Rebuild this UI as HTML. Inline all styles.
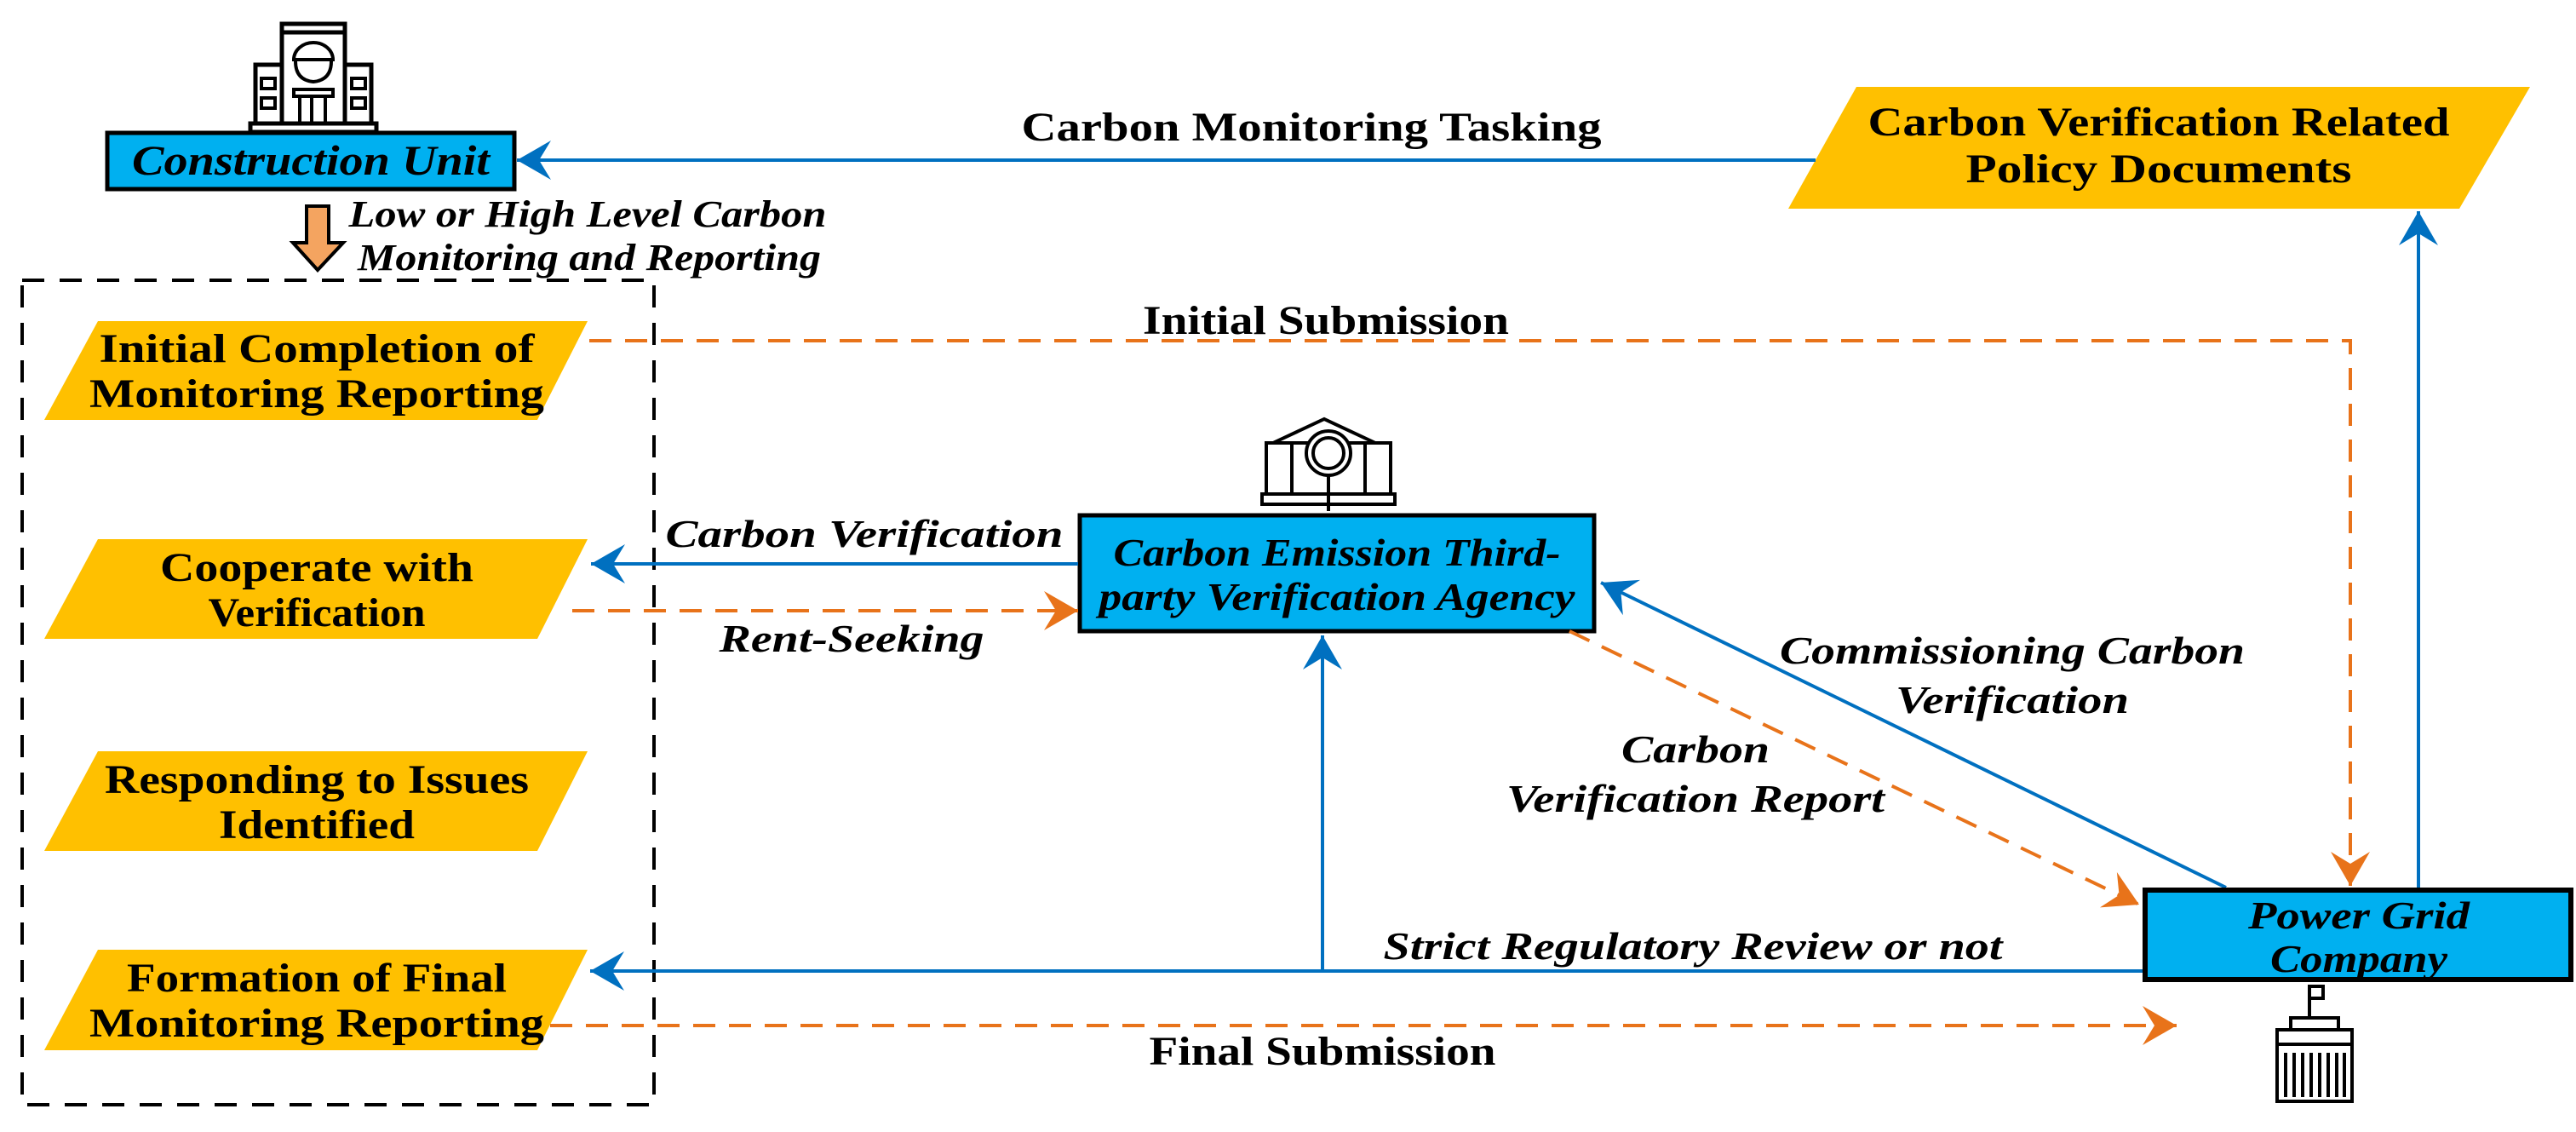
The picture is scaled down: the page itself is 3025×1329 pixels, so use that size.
<!DOCTYPE html>
<html><head><meta charset="utf-8"><style>
html,body{margin:0;padding:0;background:#fff;}
svg{display:block;}
text{font-family:"Liberation Serif",serif;font-weight:bold;fill:#000;}
.it{font-style:italic;}
</style></head><body>
<svg width="3025" height="1329" viewBox="0 0 3025 1329" xmlns="http://www.w3.org/2000/svg">
<defs>
<marker id="ab" markerUnits="userSpaceOnUse" markerWidth="44" markerHeight="46" refX="40" refY="23" orient="auto">
<path d="M0,0 L40,23 L0,46 L14,23 Z" fill="#0070C0"/></marker>
<marker id="ao" markerUnits="userSpaceOnUse" markerWidth="44" markerHeight="46" refX="40" refY="23" orient="auto">
<path d="M0,0 L40,23 L0,46 L14,23 Z" fill="#E8731A"/></marker>
</defs>

<rect x="26" y="329" width="742" height="968" fill="none" stroke="#000" stroke-width="4" stroke-dasharray="26,18"/>

<polygon points="115,377 690,377 631,493 52,493" fill="#FFC000"/>
<polygon points="115,633 690,633 631,750 52,750" fill="#FFC000"/>
<polygon points="115,882 690,882 631,999 52,999" fill="#FFC000"/>
<polygon points="115,1115 690,1115 631,1233 52,1233" fill="#FFC000"/>
<g font-size="48" text-anchor="middle">
<text x="372" y="425" textLength="511" lengthAdjust="spacingAndGlyphs">Initial Completion of</text>
<text x="372" y="478" textLength="534" lengthAdjust="spacingAndGlyphs">Monitoring Reporting</text>
<text x="372" y="682" textLength="368" lengthAdjust="spacingAndGlyphs">Cooperate with</text>
<text x="372" y="735" textLength="255" lengthAdjust="spacingAndGlyphs">Verification</text>
<text x="372" y="931" textLength="498" lengthAdjust="spacingAndGlyphs">Responding to Issues</text>
<text x="372" y="984" textLength="230" lengthAdjust="spacingAndGlyphs">Identified</text>
<text x="372" y="1164" textLength="446" lengthAdjust="spacingAndGlyphs">Formation of Final</text>
<text x="372" y="1217" textLength="534" lengthAdjust="spacingAndGlyphs">Monitoring Reporting</text>
</g>

<polygon points="2180,102 2971,102 2888,245 2100,245" fill="#FFC000"/>
<g font-size="48" text-anchor="middle">
<text x="2535" y="159" textLength="683" lengthAdjust="spacingAndGlyphs">Carbon Verification Related</text>
<text x="2535" y="214" textLength="453" lengthAdjust="spacingAndGlyphs">Policy Documents</text>
</g>

<g fill="#fff" stroke="#000" stroke-width="5">
<rect x="331" y="38" width="74" height="112"/>
<rect x="300" y="76" width="31" height="74"/>
<rect x="405" y="76" width="31" height="74"/>
<rect x="294" y="145" width="148" height="10"/>
<rect x="331" y="28" width="74" height="10"/>
</g>
<g fill="none" stroke="#000" stroke-width="4">
<rect x="307" y="92" width="16" height="12"/><rect x="307" y="115" width="16" height="12"/>
<rect x="413" y="92" width="16" height="12"/><rect x="413" y="115" width="16" height="12"/>
<path d="M345,70 a23,20 0 0 1 46,0 Z"/><path d="M347,72 q0,22 21,24 q21,-2 21,-24"/>
<rect x="345" y="105" width="46" height="8"/><path d="M352,113 V145 M366,113 V145 M382,113 V145"/>
</g>
<rect x="126" y="156" width="478" height="66" fill="#00B0F0" stroke="#000" stroke-width="5"/>
<text class="it" x="365" y="205" font-size="50" text-anchor="middle" textLength="420" lengthAdjust="spacingAndGlyphs">Construction Unit</text>

<path d="M360,242 H386 V285 H403 L373,317 L344,285 H360 Z" fill="#F4A460" stroke="#000" stroke-width="4"/>
<text class="it" x="690" y="266" font-size="44" text-anchor="middle" textLength="561" lengthAdjust="spacingAndGlyphs">Low or High Level Carbon</text>
<text class="it" x="692" y="317" font-size="44" text-anchor="middle" textLength="544" lengthAdjust="spacingAndGlyphs">Monitoring and Reporting</text>

<line x1="2132" y1="188" x2="607" y2="188" stroke="#0070C0" stroke-width="4" marker-end="url(#ab)"/>
<text x="1540" y="165" font-size="48" text-anchor="middle" textLength="681" lengthAdjust="spacingAndGlyphs">Carbon Monitoring Tasking</text>

<line x1="2840" y1="1044" x2="2840" y2="248" stroke="#0070C0" stroke-width="4" marker-end="url(#ab)"/>

<polyline points="692,400 2760,400 2760,1040" fill="none" stroke="#E8731A" stroke-width="4" stroke-dasharray="26,16" marker-end="url(#ao)"/>
<text x="1557" y="392" font-size="48" text-anchor="middle" textLength="430" lengthAdjust="spacingAndGlyphs">Initial Submission</text>

<g fill="#fff" stroke="#000" stroke-width="4">
<path d="M1495,520 L1555,492 L1615,520 Z"/>
<rect x="1487" y="520" width="30" height="60"/><rect x="1603" y="520" width="30" height="60"/>
<rect x="1482" y="580" width="156" height="12"/>
<circle cx="1560" cy="532" r="26"/><circle cx="1560" cy="532" r="18"/>
<line x1="1560" y1="558" x2="1560" y2="600"/>
</g>
<rect x="1268" y="605" width="604" height="136" fill="#00B0F0" stroke="#000" stroke-width="5"/>
<g class="it" font-size="46" text-anchor="middle">
<text class="it" x="1570" y="664" textLength="525" lengthAdjust="spacingAndGlyphs">Carbon Emission Third-</text>
<text class="it" x="1570" y="716" textLength="559" lengthAdjust="spacingAndGlyphs">party Verification Agency</text>
</g>

<line x1="1266" y1="662" x2="694" y2="662" stroke="#0070C0" stroke-width="4" marker-end="url(#ab)"/>
<text class="it" x="1015" y="642" font-size="46" text-anchor="middle" textLength="467" lengthAdjust="spacingAndGlyphs">Carbon Verification</text>
<line x1="672" y1="717" x2="1266" y2="717" stroke="#E8731A" stroke-width="4" stroke-dasharray="26,16" marker-end="url(#ao)"/>
<text class="it" x="1000" y="765" font-size="46" text-anchor="middle" textLength="311" lengthAdjust="spacingAndGlyphs">Rent-Seeking</text>

<line x1="1553" y1="1140" x2="1553" y2="746" stroke="#0070C0" stroke-width="4" marker-end="url(#ab)"/>

<line x1="2520" y1="1140" x2="693" y2="1140" stroke="#0070C0" stroke-width="4" marker-end="url(#ab)"/>
<text class="it" x="1988" y="1126" font-size="46" text-anchor="middle" textLength="727" lengthAdjust="spacingAndGlyphs">Strict Regulatory Review or not</text>

<line x1="646" y1="1204" x2="2556" y2="1204" stroke="#E8731A" stroke-width="4" stroke-dasharray="26,16" marker-end="url(#ao)"/>
<text x="1553" y="1250" font-size="48" text-anchor="middle" textLength="407" lengthAdjust="spacingAndGlyphs">Final Submission</text>

<line x1="2614" y1="1042" x2="1880" y2="684" stroke="#0070C0" stroke-width="4" marker-end="url(#ab)"/>
<text class="it" x="2363" y="779" font-size="46" text-anchor="middle" textLength="546" lengthAdjust="spacingAndGlyphs">Commissioning Carbon</text>
<text class="it" x="2363" y="837" font-size="46" text-anchor="middle" textLength="274" lengthAdjust="spacingAndGlyphs">Verification</text>
<line x1="1843" y1="741" x2="2512" y2="1062" stroke="#E8731A" stroke-width="4" stroke-dasharray="26,16" marker-end="url(#ao)"/>
<text class="it" x="1991" y="895" font-size="46" text-anchor="middle" textLength="174" lengthAdjust="spacingAndGlyphs">Carbon</text>
<text class="it" x="1991" y="953" font-size="46" text-anchor="middle" textLength="444" lengthAdjust="spacingAndGlyphs">Verification Report</text>

<rect x="2519" y="1045" width="500" height="105" fill="#00B0F0" stroke="#000" stroke-width="6"/>
<text class="it" x="2770" y="1090" font-size="46" text-anchor="middle" textLength="260" lengthAdjust="spacingAndGlyphs">Power Grid</text>
<text class="it" x="2770" y="1141" font-size="46" text-anchor="middle" textLength="208" lengthAdjust="spacingAndGlyphs">Company</text>
<g fill="#fff" stroke="#000" stroke-width="4">
<line x1="2712" y1="1156" x2="2712" y2="1195"/>
<rect x="2712" y="1158" width="16" height="14"/>
<rect x="2690" y="1195" width="56" height="14"/>
<rect x="2674" y="1209" width="88" height="84"/>
<line x1="2674" y1="1226" x2="2762" y2="1226"/>
<path d="M2684,1236 V1288 M2694,1236 V1288 M2704,1236 V1288 M2714,1236 V1288 M2724,1236 V1288 M2734,1236 V1288 M2744,1236 V1288 M2753,1236 V1288"/>
</g>
</svg>
</body></html>
